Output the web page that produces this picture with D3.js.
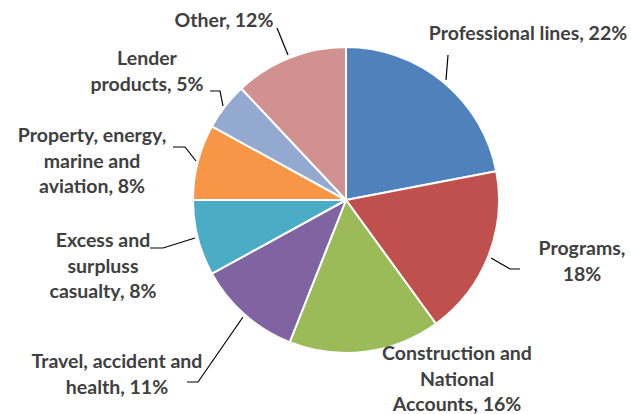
<!DOCTYPE html>
<html>
<head>
<meta charset="utf-8">
<script src="https://cdn.jsdelivr.net/npm/d3@7"></script>
<style>
  body { margin: 0; background: #fff; }
  svg text { font-family: Lato, "Open Sans", sans-serif; font-weight: bold; fill: #404040; }
</style>
</head>
<body>
<div id="chart"></div>
<script>
// segment names and shares (%), clockwise from 12 o'clock
const segments = ["Professional lines", "Programs", "Construction and National Accounts",
	"Travel, accident and health", "Excess and surpluss casualty",
	"Property, energy, marine and aviation", "Lender products", "Other"];
const shares = [22, 18, 16, 11, 8, 8, 5, 12];
const colors = ["#4F81BD", "#C0504D", "#9BBB59", "#8064A2", "#4BACC6", "#F79646", "#94A9D0", "#D09190"];

// label text broken into lines, as in the original
const labelLines = [
	["Professional lines, 22%"],
	["Programs,", "18%"],
	["Construction and", "National", "Accounts, 16%"],
	["Travel, accident and", "health, 11%"],
	["Excess and", "surpluss", "casualty, 8%"],
	["Property, energy,", "marine and", "aviation, 8%"],
	["Lender", "products, 5%"],
	["Other, 12%"]
];
// label centre (first line) and leader lines
const labelPos = [[528, 35], [582, 250], [457, 355], [117, 363], [103, 242], [92, 137], [147, 60], [224, 22]];
const leaders = [
	[[446, 80], [448, 55]],
	[[491, 258], [510, 269], [520, 269]],
	null,
	[[243, 317], [198, 382], [187, 382]],
	[[195, 238], [163, 248], [150, 248]],
	[[196, 161], [185, 147], [173, 147]],
	[[223, 106], [220, 91], [210, 91]],
	[[288, 55], [277, 28]]
];

const width = 631, height = 414;
const cx = 346, cy = 200, radius = 153;
const lineGap = 25.5;

const svg = d3.select("#chart").append("svg")
	.attr("width", width)
	.attr("height", height);

const pie = d3.pie().sort(null).value(d => d)(shares);
const arc = d3.arc().innerRadius(0).outerRadius(radius);

const g = svg.append("g").attr("transform", "translate(" + cx + "," + cy + ")");

g.selectAll("path.slice")
	.data(pie)
	.enter().append("path")
	.attr("class", "slice")
	.attr("d", arc)
	.attr("fill", (d, i) => colors[i])
	.attr("stroke", "#fff")
	.attr("stroke-width", 2)
	.attr("stroke-linejoin", "round");

// leader lines
const line = d3.line();
leaders.forEach(pts => {
	if (!pts) return;
	svg.append("path")
		.attr("d", line(pts))
		.attr("fill", "none")
		.attr("stroke", "#000")
		.attr("stroke-width", 1.2);
});

// labels
labelLines.forEach((lines, i) => {
	const t = svg.append("text")
		.attr("text-anchor", "middle")
		.attr("font-size", 19.5)
		.attr("dominant-baseline", "middle");
	lines.forEach((s, j) => {
		t.append("tspan")
			.attr("x", labelPos[i][0])
			.attr("y", labelPos[i][1] + j * lineGap)
			.text(s);
	});
});
</script>
</body>
</html>
